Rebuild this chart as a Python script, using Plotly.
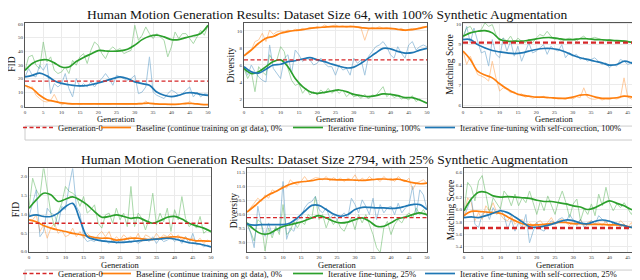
import plotly.graph_objects as go

# ---------------- data ----------------
GENS = list(range(51))
SMOOTH_GENS = list(range(0, 51, 2))

LEGEND_NAMES_TOP = ["Generation-0", "Baseline (continue training on gt data), 0%",
                    "Iterative fine-tuning, 100%", "Iterative fine-tuning with self-correction, 100%"]
LEGEND_NAMES_BOT = ["Generation-0", "Baseline (continue training on gt data), 0%",
                    "Iterative fine-tuning, 25%", "Iterative fine-tuning with self-correction, 25%"]
TITLE_TOP = "Human Motion Generation Results: Dataset Size 64, with 100% Synthetic Augmentation"
TITLE_BOT = "Human Motion Generation Results: Dataset Size 2794, with 25% Synthetic Augmentation"

# ---- top row: FID ----
TOP_FID_GEN0 = 18.1
TOP_FID_BASE_RAW = [15, 12.7, 14, 7.8, 5.4, 3.4, 2.9, 4, 8.5, 2.9, 1, 1.7, 1.5, 1.2, 1.8, 1.0, 1.5, 1.3, 1.2, 1.6,
                    1.0, 1.4, 1.2, 1.0, 1.5, 1.3, 1.1, 1.4, 1.0, 1.2, 1.5, 1.3, 1.0, 3.6, 1.4, 1.2, 1.0, 1.3, 1.1, 1.0,
                    1.4, 1.2, 1.0, 1.5, 1.2, 3.4, 1.0, 1.2, 0.9, 1.1, 1.0]
TOP_FID_BASE_SMOOTH = [15, 12.7, 7.8, 4.6, 3.4, 2.2, 1.7, 1.5, 1.5, 1.5, 1.5, 1.5, 1.5, 1.5, 1.5, 1.5, 1.8, 2.0,
                       1.5, 1.3, 1.2, 1.4, 1.9, 1.8, 1.2, 1.0]
TOP_FID_ITER_RAW = [26.1, 35.9, 37.1, 29.8, 27.3, 46.8, 32.2, 35.9, 26.1, 23.7, 24.9, 28.5, 23.7, 33.4, 29.8, 35.9,
                    38.3, 31.0, 40.7, 46.8, 44.4, 38.3, 34.6, 40.7, 43.2, 40.7, 42.0, 38.3, 39.5, 40.7, 59.0, 48.0,
                    51.7, 57.8, 52.9, 49.3, 52.9, 50.5, 48.0, 35.9, 43.2, 54.1, 49.3, 52.9, 52.9, 49.3, 45.6, 50.5,
                    55.4, 51.7, 59.0]
TOP_FID_ITER_SMOOTH = [26, 31, 33.4, 33.8, 31.5, 28.5, 28.5, 32.5, 35.5, 38, 40.5, 40.2, 40, 40.3, 41.5, 44.5, 48.5,
                       51, 51.8, 50.5, 48.5, 48.5, 50, 51.3, 53, 59]
TOP_FID_SC_RAW = [21.2, 27.3, 22.4, 21.2, 29.8, 26.1, 31.0, 9.0, 16.3, 13.9, 16.3, 23.7, 12.7, 6.6, 20.0, 13.9, 16.3,
                  13.9, 17.6, 13.9, 17.6, 20.0, 23.7, 20.0, 15.1, 22.4, 21.2, 20.0, 18.8, 20.0, 22.4, 9.0, 10.2, 13.9,
                  35.9, 10.2, 7.8, 6.6, 5.4, 9.0, 11.5, 10.2, 7.8, 9.0, 11.5, 13.9, 6.6, 10.2, 6.6, 9.0, 8.5]
TOP_FID_SC_SMOOTH = [21.2, 22.4, 24, 22, 18.5, 16.5, 15.5, 14.8, 14.7, 15.5, 16.8, 18.3, 20, 21.2, 20, 17.6, 16.3,
                     15.1, 10.2, 7.8, 6.8, 7.8, 9.5, 9.6, 8.5, 7.8]

# ---- top row: Diversity ----
TOP_DIV_GEN0 = 6.6
TOP_DIV_BASE_RAW = [7.06, 7.57, 7.76, 8.75, 8.94, 9.73, 8.75, 10.1, 9.6, 9.9, 10.0, 9.9, 10.1, 10.0, 10.2, 10.1, 10.3,
                    10.2, 10.4, 10.3, 10.5, 10.4, 10.7, 10.5, 10.6, 10.7, 10.5, 10.6, 10.4, 10.6, 10.5, 10.4, 10.3,
                    8.9, 10.2, 10.4, 10.3, 10.5, 10.3, 10.4, 10.2, 10.3, 10.1, 10.3, 10.0, 10.2, 10.3, 10.2, 10.4,
                    10.5, 10.5]
TOP_DIV_BASE_SMOOTH = [7.06, 7.76, 8.55, 9.14, 9.35, 9.73, 9.92, 10.05, 10.15, 10.3, 10.4, 10.45, 10.5, 10.5, 10.5,
                       10.5, 10.4, 10.3, 10.3, 10.3, 10.3, 10.2, 10.1, 10.15, 10.3, 10.5]
TOP_DIV_ITER_RAW = [5.6, 4.4, 5.2, 2.86, 5.8, 5.2, 4.8, 7.2, 6.4, 6.6, 8.15, 7.57, 5.6, 4.2, 3.6, 3.8, 2.67, 3.25,
                    2.47, 2.86, 2.47, 3.06, 2.67, 3.25, 2.67, 3.06, 2.67, 3.06, 2.27, 2.67, 2.27, 2.39, 2.08, 2.55,
                    2.0, 2.47, 2.39, 2.86, 3.45, 2.27, 2.67, 2.16, 2.39, 2.0, 2.16, 1.88, 2.39, 1.69, 2.0, 1.69, 1.5]
TOP_DIV_ITER_SMOOTH = [5.6, 5.0, 5.2, 5.8, 6.4, 6.6, 5.8, 4.4, 3.45, 2.86, 2.67, 2.78, 2.94, 3.06, 2.86, 2.55, 2.39,
                       2.27, 2.39, 2.6, 2.55, 2.39, 2.16, 2.16, 1.88, 1.5]
TOP_DIV_SC_RAW = [5.8, 4.8, 6.0, 5.2, 4.6, 4.2, 4.0, 8.35, 5.6, 5.0, 4.4, 6.8, 7.2, 5.0, 7.76, 7.2, 6.4, 6.8, 6.6, 6.0,
                  6.2, 6.8, 6.2, 5.8, 5.8, 4.8, 6.0, 5.4, 5.6, 4.8, 6.8, 6.2, 6.6, 4.8, 7.0, 7.57, 8.15, 8.35, 8.75,
                  8.15, 7.2, 6.8, 8.15, 7.37, 6.8, 8.35, 8.75, 7.76, 8.15, 8.35, 8.15]
TOP_DIV_SC_SMOOTH = [5.8, 5.2, 5.05, 5.5, 6.0, 6.08, 6.4, 6.5, 6.7, 6.86, 6.6, 6.4, 6.1, 5.85, 5.65, 5.75, 6.2, 6.8,
                     7.4, 7.95, 7.9, 7.6, 7.4, 7.45, 7.75, 7.96]

# ---- top row: Matching Score ----
TOP_MS_GEN0 = 9.08
TOP_MS_BASE_RAW = [8.66, 8.0, 8.41, 7.92, 7.5, 7.43, 7.34, 7.18, 8.16, 7.34, 6.69, 6.85, 6.77, 6.61, 6.66, 6.49, 6.56,
                   6.39, 6.44, 6.33, 6.39, 6.36, 6.43, 6.33, 6.38, 6.3, 6.36, 6.33, 6.28, 6.36, 6.3, 6.41, 6.36, 6.85,
                   6.39, 6.3, 6.28, 6.33, 6.25, 6.3, 6.28, 6.33, 6.3, 6.36, 7.34, 6.39, 6.3, 6.28, 6.25, 6.26, 6.23]
TOP_MS_BASE_SMOOTH = [8.66, 8.25, 7.67, 7.48, 7.34, 7.05, 6.8, 6.61, 6.49, 6.44, 6.39, 6.39, 6.36, 6.33, 6.33, 6.39,
                      6.49, 6.5, 6.4, 6.33, 6.33, 6.36, 6.44, 6.4, 6.28, 6.23]
TOP_MS_ITER_RAW = [9.39, 9.8, 9.88, 9.56, 9.64, 9.72, 10.05, 9.88, 9.97, 9.48, 9.15, 9.3, 9.15, 9.4, 9.07, 9.3, 9.15,
                   9.07, 9.23, 9.07, 9.3, 9.48, 9.4, 9.64, 9.4, 9.23, 9.3, 9.15, 9.23, 9.3, 9.23, 9.15, 9.3, 9.4, 9.23,
                   9.3, 9.34, 9.28, 9.23, 9.15, 9.23, 9.18, 9.15, 9.12, 9.18, 9.15, 9.07, 9.15, 8.98, 9.07, 8.98]
TOP_MS_ITER_SMOOTH = [9.39, 9.56, 9.64, 9.67, 9.56, 9.25, 9.15, 9.15, 9.15, 9.2, 9.26, 9.32, 9.33, 9.28, 9.23, 9.23,
                      9.27, 9.27, 9.23, 9.22, 9.2, 9.18, 9.15, 9.1, 9.05, 8.98]
TOP_MS_SC_RAW = [9.23, 9.88, 9.07, 9.8, 9.15, 8.57, 8.66, 7.92, 9.23, 8.5, 8.33, 9.31, 8.66, 9.15, 8.41, 8.9, 8.16,
                 8.66, 9.07, 8.57, 8.66, 8.82, 8.98, 8.5, 8.9, 8.74, 8.66, 8.98, 8.33, 8.57, 8.41, 8.5, 8.25, 8.33,
                 8.16, 8.25, 8.33, 8.16, 8.0, 8.08, 7.84, 8.0, 7.92, 8.25, 8.16, 8.0, 8.08, 8.41, 7.43, 7.67, 7.59]
TOP_MS_SC_SMOOTH = [9.23, 9.23, 8.98, 8.82, 8.69, 8.62, 8.57, 8.54, 8.57, 8.66, 8.74, 8.79, 8.79, 8.74, 8.62, 8.46,
                    8.33, 8.25, 8.16, 8.08, 7.97, 8.0, 8.16, 8.08, 7.92, 7.75]

# ---- bottom row: FID ----
BOT_FID_GEN0 = 0.76
BOT_FID_BASE_RAW = [0.85, 0.85, 0.98, 0.54, 0.71, 0.36, 0.63, 0.76, 0.49, 0.58, 0.4, 0.45, 0.63, 0.4, 0.54, 0.36,
                    0.49, 0.4, 0.31, 0.45, 0.54, 0.4, 0.54, 0.27, 0.4, 0.31, 0.45, 0.36, 0.4, 0.31, 0.49, 0.27, 0.45,
                    0.4, 0.31, 0.49, 0.36, 0.45, 0.4, 0.49, 0.36, 0.45, 0.31, 0.4, 0.31, 0.36, 0.27, 0.36, 0.22, 0.31,
                    0.27]
BOT_FID_BASE_SMOOTH = [0.85, 0.8, 0.7, 0.63, 0.58, 0.54, 0.49, 0.46, 0.42, 0.38, 0.36, 0.36, 0.31, 0.33, 0.36, 0.36,
                       0.33, 0.33, 0.36, 0.38, 0.4, 0.38, 0.33, 0.29, 0.29, 0.28]
BOT_FID_ITER_RAW = [1.16, 1.96, 1.65, 1.47, 2.28, 1.7, 1.03, 0.67, 1.03, 1.29, 1.74, 1.61, 1.56, 1.47, 1.21, 1.47,
                    1.03, 1.12, 1.25, 0.76, 0.63, 0.98, 1.03, 0.76, 1.16, 0.85, 1.03, 0.67, 1.74, 0.67, 1.03, 0.89,
                    0.58, 0.89, 1.56, 0.71, 1.03, 0.8, 1.16, 0.54, 1.12, 0.85, 1.47, 0.89, 0.67, 0.76, 0.63, 0.94,
                    0.49, 0.58, 0.51]
BOT_FID_ITER_SMOOTH = [1.16, 1.38, 1.56, 1.52, 1.34, 1.40, 1.46, 1.38, 1.25, 1.07, 0.92, 0.94, 0.98, 0.94, 0.89, 0.91,
                       0.83, 0.76, 0.83, 0.92, 0.94, 0.87, 0.76, 0.69, 0.63, 0.54]
BOT_FID_SC_RAW = [0.94, 1.29, 1.65, 0.4, 0.54, 1.16, 1.03, 0.98, 0.71, 1.21, 1.12, 1.74, 2.23, 1.21, 1.03, 0.4, 0.27,
                  0.31, 0.27, 0.4, 0.27, 0.31, 0.22, 0.33, 0.22, 0.31, 0.27, 0.36, 0.24, 0.31, 0.22, 0.29, 0.36, 0.27,
                  0.4, 0.22, 0.36, 0.27, 0.31, 0.4, 0.27, 0.36, 0.22, 0.4, 0.22, 0.49, 0.18, 0.22, 0.13, 0.18, 0.13]
BOT_FID_SC_SMOOTH = [0.94, 0.98, 0.94, 0.94, 1.03, 1.2, 1.29, 0.85, 0.4, 0.33, 0.29, 0.27, 0.25, 0.25, 0.27, 0.29,
                     0.31, 0.33, 0.34, 0.36, 0.34, 0.29, 0.24, 0.22, 0.18, 0.13]

# ---- bottom row: Diversity ----
BOT_DIV_GEN0 = 9.88
BOT_DIV_BASE_RAW = [10.08, 10.23, 10.40, 10.58, 10.46, 10.70, 10.58, 10.88, 10.82, 10.88, 11.04, 10.94, 11.24, 11.12,
                    11.06, 11.18, 11.36, 11.18, 11.24, 11.32, 11.30, 11.24, 11.36, 11.20, 11.32, 11.24, 11.30, 11.18,
                    11.30, 11.24, 11.42, 11.18, 11.30, 11.20, 11.36, 11.24, 11.27, 11.18, 11.36, 11.24, 11.30, 11.18,
                    11.36, 11.24, 11.18, 11.30, 10.88, 11.12, 11.18, 11.24, 11.12]
BOT_DIV_BASE_SMOOTH = [10.08, 10.29, 10.52, 10.7, 10.82, 10.96, 11.08, 11.15, 11.18, 11.21, 11.26, 11.27, 11.25,
                       11.24, 11.24, 11.23, 11.22, 11.24, 11.26, 11.27, 11.25, 11.26, 11.2, 11.14, 11.1, 11.12]
BOT_DIV_ITER_RAW = [9.69, 9.33, 9.04, 9.81, 9.69, 8.68, 9.51, 9.15, 9.57, 9.27, 10.35, 9.27, 9.39, 9.75, 9.51, 9.75,
                    9.63, 9.99, 9.87, 10.64, 9.81, 9.99, 9.51, 9.87, 9.63, 9.81, 9.51, 9.39, 9.69, 9.87, 9.45, 9.99,
                    9.69, 9.99, 9.63, 9.27, 8.80, 8.62, 9.51, 9.75, 9.27, 9.63, 9.81, 9.69, 9.93, 10.05, 9.87, 10.23,
                    9.99, 10.17, 9.93]
BOT_DIV_ITER_SMOOTH = [9.69, 9.45, 9.3, 9.3, 9.44, 9.56, 9.63, 9.69, 9.77, 9.87, 9.95, 9.87, 9.75, 9.69, 9.72, 9.81,
                       9.87, 9.75, 9.57, 9.57, 9.7, 9.84, 9.9, 9.99, 10.05, 9.99]
BOT_DIV_SC_RAW = [9.65, 9.33, 8.80, 10.29, 9.63, 9.21, 9.69, 9.27, 9.51, 9.39, 11.18, 9.10, 9.51, 9.39, 9.81, 9.87,
                  10.23, 10.40, 10.46, 10.64, 10.17, 10.05, 10.23, 9.87, 9.99, 9.81, 9.93, 10.05, 9.87, 10.58, 10.35,
                  10.05, 10.52, 10.29, 9.99, 10.58, 9.81, 10.35, 10.05, 10.23, 10.29, 9.99, 10.40, 10.05, 10.23,
                  10.35, 11.0, 9.99, 10.88, 10.70, 10.17]
BOT_DIV_SC_SMOOTH = [9.65, 9.61, 9.63, 9.63, 9.63, 9.63, 9.69, 9.87, 10.11, 10.32, 10.32, 10.17, 10.01, 9.93, 9.99,
                     10.17, 10.25, 10.25, 10.23, 10.23, 10.21, 10.23, 10.29, 10.35, 10.35, 10.17]

# ---- bottom row: Matching Score ----
BOT_MS_GEN0 = 5.70
BOT_MS_BASE_RAW = [5.90, 6.19, 6.11, 5.82, 5.95, 5.84, 6.06, 5.98, 6.11, 5.95, 5.92, 5.84, 5.82, 5.90, 5.76, 5.82,
                   5.84, 5.71, 5.79, 5.74, 5.79, 5.82, 5.74, 5.79, 5.87, 5.76, 5.82, 5.84, 5.79, 5.74, 5.82, 5.76,
                   5.84, 5.74, 5.79, 5.82, 5.76, 5.79, 5.74, 5.82, 5.71, 5.79, 5.74, 5.82, 5.76, 5.71, 5.79, 5.63,
                   5.74, 5.79, 5.76]
BOT_MS_BASE_SMOOTH = [5.9, 5.97, 5.97, 5.96, 5.95, 5.94, 5.88, 5.82, 5.77, 5.75, 5.75, 5.76, 5.77, 5.79, 5.79, 5.77,
                      5.77, 5.76, 5.76, 5.76, 5.75, 5.75, 5.74, 5.71, 5.71, 5.72]
BOT_MS_ITER_RAW = [5.98, 6.44, 6.36, 6.14, 6.46, 6.55, 6.25, 5.95, 6.19, 6.11, 6.01, 6.30, 6.22, 6.06, 6.25, 6.06,
                   6.19, 6.11, 6.30, 6.11, 5.92, 6.14, 5.98, 6.22, 6.06, 5.92, 6.14, 6.30, 6.11, 5.87, 6.09, 6.17,
                   5.82, 6.01, 5.92, 6.09, 5.90, 6.25, 6.06, 6.36, 6.11, 5.98, 6.09, 6.03, 6.11, 6.01, 5.92, 6.06,
                   5.84, 5.95, 5.92]
BOT_MS_ITER_SMOOTH = [5.98, 6.17, 6.28, 6.28, 6.22, 6.2, 6.21, 6.2, 6.19, 6.18, 6.15, 6.13, 6.13, 6.11, 6.09, 6.06,
                      6.04, 6.0, 6.03, 6.09, 6.14, 6.1, 6.06, 6.0, 5.98, 5.94]
BOT_MS_SC_RAW = [5.87, 6.03, 6.19, 5.76, 5.71, 5.92, 5.98, 5.84, 6.03, 5.92, 6.01, 5.90, 5.68, 5.84, 5.65, 5.79, 5.71,
                 5.92, 5.46, 5.65, 5.79, 5.68, 5.65, 5.74, 5.82, 5.76, 5.84, 5.87, 5.79, 5.92, 5.82, 5.74, 5.84, 5.71,
                 5.76, 5.82, 5.76, 5.90, 5.84, 5.79, 5.82, 5.76, 5.79, 5.71, 5.76, 5.68, 5.74, 5.65, 5.63, 5.65, 5.65]
BOT_MS_SC_SMOOTH = [5.87, 5.88, 5.87, 5.9, 5.94, 5.98, 5.95, 5.88, 5.8, 5.72, 5.71, 5.73, 5.76, 5.8, 5.83, 5.82, 5.78,
                    5.77, 5.81, 5.83, 5.81, 5.77, 5.74, 5.71, 5.7, 5.68]

# axis ticks / ranges
X_TICKS = [0, 5, 10, 15, 20, 25, 30, 35, 40, 45, 50]
TOP_FID_TICKS = [0, 10, 20, 30, 40, 50, 60]
TOP_DIV_TICKS = [2, 4, 6, 8, 10]
TOP_MS_TICKS = [6, 7, 8, 9, 10]
BOT_FID_TICKS = [0.0, 0.5, 1.0, 1.5, 2.0]
BOT_DIV_TICKS = [9.0, 9.5, 10.0, 10.5, 11.0, 11.5]
BOT_MS_TICKS = [5.4, 5.6, 5.8, 6.0, 6.2, 6.4, 6.6]

# ---------------- styling ----------------
W, H = 640, 280
FONT = "Liberation Serif"
C_RED, C_ORANGE, C_GREEN, C_BLUE = "#d62728", "#ff7f0e", "#2ca02c", "#1f77b4"


def px(x):
    return x / W


def py(y):
    return 1 - y / H


panels = [
    ("top", "FID", TOP_FID_GEN0, TOP_FID_BASE_RAW, TOP_FID_BASE_SMOOTH, TOP_FID_ITER_RAW, TOP_FID_ITER_SMOOTH,
     TOP_FID_SC_RAW, TOP_FID_SC_SMOOTH, [-0.5, 60.7], TOP_FID_TICKS, "d", (17, 200), (15, 99)),
    ("top", "Diversity", TOP_DIV_GEN0, TOP_DIV_BASE_RAW, TOP_DIV_BASE_SMOOTH, TOP_DIV_ITER_RAW, TOP_DIV_ITER_SMOOTH,
     TOP_DIV_SC_RAW, TOP_DIV_SC_SMOOTH, [1.1, 10.94], TOP_DIV_TICKS, "d", (236, 419), (15, 99)),
    ("top", "Matching Score", TOP_MS_GEN0, TOP_MS_BASE_RAW, TOP_MS_BASE_SMOOTH, TOP_MS_ITER_RAW, TOP_MS_ITER_SMOOTH,
     TOP_MS_SC_RAW, TOP_MS_SC_SMOOTH, [5.92, 10.05], TOP_MS_TICKS, "d", (455, 638), (15, 99)),
    ("bot", "FID", BOT_FID_GEN0, BOT_FID_BASE_RAW, BOT_FID_BASE_SMOOTH, BOT_FID_ITER_RAW, BOT_FID_ITER_SMOOTH,
     BOT_FID_SC_RAW, BOT_FID_SC_SMOOTH, [-0.01, 2.22], BOT_FID_TICKS, ".1f", (21, 203), (161, 245)),
    ("bot", "Diversity", BOT_DIV_GEN0, BOT_DIV_BASE_RAW, BOT_DIV_BASE_SMOOTH, BOT_DIV_ITER_RAW, BOT_DIV_ITER_SMOOTH,
     BOT_DIV_SC_RAW, BOT_DIV_SC_SMOOTH, [8.64, 11.65], BOT_DIV_TICKS, ".1f", (239, 419), (161, 245)),
    ("bot", "Matching Score", BOT_MS_GEN0, BOT_MS_BASE_RAW, BOT_MS_BASE_SMOOTH, BOT_MS_ITER_RAW, BOT_MS_ITER_SMOOTH,
     BOT_MS_SC_RAW, BOT_MS_SC_SMOOTH, [5.31, 6.665], BOT_MS_TICKS, ".1f", (456, 638), (161, 245)),
]

fig = go.Figure()
annotations = []
layout_axes = {}

for i, (row, label, g0, br, bs, ir, ism, sr, ss, yr, yt, fmt, xd, yd) in enumerate(panels):
    n = i + 1
    xa = "x" if n == 1 else f"x{n}"
    ya = "y" if n == 1 else f"y{n}"
    first = (i % 3 == 0)
    names = LEGEND_NAMES_TOP if row == "top" else LEGEND_NAMES_BOT
    lg_base = 1 if row == "top" else 5

    def lg(k):
        return "legend" if (lg_base + k) == 1 else f"legend{lg_base + k}"

    for raw, col in [(br, C_ORANGE), (ir, C_GREEN), (sr, C_BLUE)]:
        fig.add_trace(go.Scatter(x=GENS, y=raw, mode="lines", line=dict(color=col, width=1), opacity=0.4,
                                 showlegend=False, hoverinfo="skip", xaxis=xa, yaxis=ya))
    for k, (sm, col) in enumerate([(bs, C_ORANGE), (ism, C_GREEN), (ss, C_BLUE)], start=1):
        fig.add_trace(go.Scatter(x=SMOOTH_GENS, y=sm, mode="lines",
                                 line=dict(color=col, width=1.7, shape="spline", smoothing=1.0),
                                 name=names[k], showlegend=first, legend=lg(k), xaxis=xa, yaxis=ya))
    if label == "Matching Score":
        dline = dict(color=C_RED, width=2.4, dash="5px,3px")
    else:
        dline = dict(color=C_RED, width=1.3, dash="4px,2.5px")
    fig.add_trace(go.Scatter(x=[GENS[0], GENS[-1]], y=[g0, g0], mode="lines", line=dline,
                             name=names[0], showlegend=first, legend=lg(0), xaxis=xa, yaxis=ya))

    axis_common = dict(showgrid=True, gridcolor="#ebebeb", gridwidth=0.8, showline=True, linecolor="#555",
                       linewidth=1, mirror=True, zeroline=False, ticks="",
                       tickfont=dict(family=FONT, size=5, color="#333"), automargin=False)
    layout_axes["xaxis" if n == 1 else f"xaxis{n}"] = dict(
        axis_common, domain=[px(xd[0]), px(xd[1])], range=[0, 50], tickvals=X_TICKS, anchor=ya)
    layout_axes["yaxis" if n == 1 else f"yaxis{n}"] = dict(
        axis_common, domain=[py(yd[1]), py(yd[0])], range=yr, tickvals=yt, tickformat=fmt, anchor=xa)

    gen_off = 12 if row == "top" else 12.5
    annotations.append(dict(text="Generation", x=px((xd[0] + xd[1]) / 2), y=py(yd[1] + gen_off), xref="paper",
                            yref="paper", showarrow=False, font=dict(family=FONT, size=8.5, color="#111"),
                            xanchor="center", yanchor="middle"))
    annotations.append(dict(text=label, x=px(xd[0] - 13), y=py((yd[0] + yd[1]) / 2), xref="paper", yref="paper",
                            showarrow=False, textangle=-90, font=dict(family=FONT, size=9.5, color="#111"),
                            xanchor="center", yanchor="middle"))

annotations.append(dict(text=TITLE_TOP, x=px(319), y=py(7), xref="paper", yref="paper", showarrow=False,
                        font=dict(family=FONT, size=13.5, color="#111"), xanchor="center", yanchor="middle"))
annotations.append(dict(text=TITLE_BOT, x=px(316), y=py(152), xref="paper", yref="paper", showarrow=False,
                        font=dict(family=FONT, size=13.5, color="#111"), xanchor="center", yanchor="middle"))

# legends: one per entry so each item sits where it does in the reference
legend_line_start = [20, 98, 290, 422]
legends = {}
for r, yc in [(0, 119.5), (1, 266.5)]:
    for k, lx in enumerate(legend_line_start):
        idx = r * 4 + k + 1
        key = "legend" if idx == 1 else f"legend{idx}"
        legends[key] = dict(x=px(lx - 10), y=py(yc), xanchor="left", yanchor="middle", orientation="h",
                            bgcolor="rgba(0,0,0,0)", borderwidth=0, itemwidth=30,
                            font=dict(family=FONT, size=8.5, color="#111"))

shapes = [
    dict(type="rect", xref="paper", yref="paper", x0=px(17), x1=px(638), y0=py(132.5), y1=py(118.5),
         line=dict(color="#cccccc", width=1), fillcolor="rgba(255,255,255,0)", layer="below"),
    dict(type="rect", xref="paper", yref="paper", x0=px(17), x1=px(638), y0=py(277), y1=py(263),
         line=dict(color="#cccccc", width=1), fillcolor="rgba(255,255,255,0)", layer="below"),
]

fig.update_layout(width=W, height=H, margin=dict(l=0, r=0, t=0, b=0), paper_bgcolor="white",
                  plot_bgcolor="white", annotations=annotations, shapes=shapes, **layout_axes, **legends)

fig.write_html("out.html")
